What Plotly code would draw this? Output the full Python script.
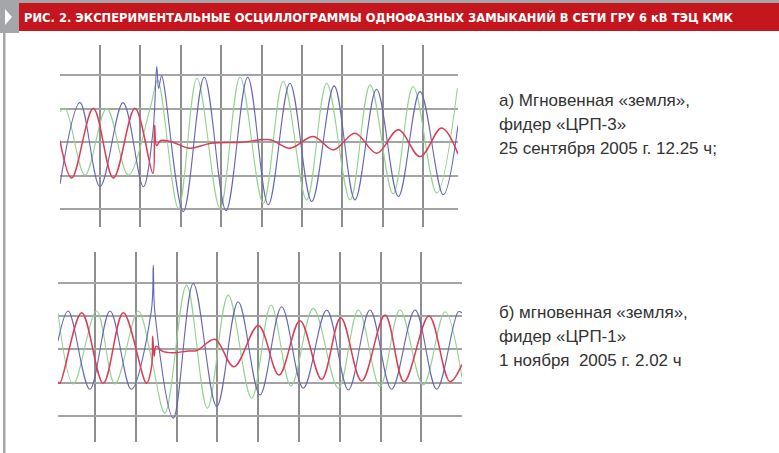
import plotly.graph_objects as go

W, H = 779, 453

# ---- Oscillogram (а): feeder «ЦРП-3», time in ms, amplitude in grid divisions
a_blue_t = [-19.8, -9.9, 0.0, 11.4, 21.4, 26.2, 28.1, 29.0, 30.5, 41.2, 51.6, 62.4, 73.1, 83.3,
            94.0, 104.8, 115.9, 126.2, 136.9, 147.7, 158.4, 169.9, 177.2]
a_blue_v = [-1.25, 1.18, -1.33, 1.18, -1.33, 0.3, 2.26, 1.6, 1.98, -2.07, 1.94, -2.04, 1.94, -1.87,
            1.76, -1.77, 1.68, -1.72, 1.58, -1.62, 1.51, -1.57, 0.5]

a_green_t = [-19.8, -17.3, -7.4, 3.3, 14.0, 24.8, 28.5, 38.8, 48.0, 59.4, 69.3, 80.8, 90.7,
             102.3, 112.2, 123.8, 133.7, 145.1, 155.0, 166.7, 176.9]
a_green_v = [0.9, 1.01, -0.98, 1.01, -0.98, 1.01, 1.85, -1.97, 1.91, -1.97, 1.94, -1.82, 1.81,
             -1.72, 1.76, -1.72, 1.71, -1.54, 1.66, -1.52, 1.61]

a_red_t = [-19.8, -14.0, -3.3, 6.6, 17.3, 26.2, 27.0, 28.0, 30.0, 36.0, 44.5, 55.0, 70.0, 84.2,
           94.0, 105.6, 115.5, 126.2, 137.0, 147.7, 158.4, 169.1, 177.2]
a_red_v = [0.05, -1.07, 1.01, -1.07, 1.01, -0.93, 0.5, -0.1, 0.05, 0.0, -0.18, -0.03, 0.0, 0.07,
           -0.18, 0.17, -0.23, 0.27, -0.33, 0.37, -0.43, 0.42, -0.35]

# ---- Oscillogram (б): feeder «ЦРП-1»
b_blue_t = [-18.1, -13.1, -2.5, 7.4, 17.8, 27.6, 28.6, 29.4, 38.4, 48.2, 59.7, 70.2, 80.9, 91.5,
            102.1, 113.6, 124.2, 134.8, 145.4, 156.9, 167.5, 178.1, 179.9]
b_blue_v = [0.25, 1.16, -1.2, 1.16, -1.2, 1.15, 2.55, 1.1, -2.07, 1.99, -1.72, 1.44, -1.37, 1.29,
            -1.17, 1.19, -1.22, 1.19, -1.2, 1.19, -1.2, 1.14, 1.1]

b_green_t = [-18.1, -10.6, 0.8, 9.8, 21.2, 27.8, 34.3, 44.9, 55.1, 65.3, 76.8, 86.3, 96.1, 107.0,
             119.3, 129.1, 139.7, 149.5, 160.9, 171.6, 179.9]
b_green_v = [1.1, -1.04, 1.16, -1.04, 1.16, -0.3, -1.92, 1.94, -1.77, 1.64, -1.47, 1.34, -1.1, 1.24,
             -1.17, 1.19, -1.12, 1.19, -1.07, 1.14, -0.85]

b_red_t = [-18.1, -17.2, -6.5, 4.1, 13.9, 25.3, 27.8, 28.3, 29.0, 30.0, 33.0, 38.0, 45.0, 50.0,
           58.8, 68.1, 80.1, 90.2, 100.5, 111.1, 120.5, 130.7, 142.2, 151.5, 163.7, 174.0, 179.9]
b_red_v = [-0.98, -1.02, 1.11, -1.02, 1.11, -1.02, -0.5, 0.4, -0.2, 0.1, -0.05, -0.1, -0.05, -0.03,
           0.31, -0.52, 0.72, -0.77, 0.87, -0.9, 0.96, -0.95, 1.04, -0.97, 1.01, -0.97, -0.45]

TITLE = "РИС. 2. ЭКСПЕРИМЕНТАЛЬНЫЕ ОСЦИЛЛОГРАММЫ ОДНОФАЗНЫХ ЗАМЫКАНИЙ В СЕТИ ГРУ 6 кВ ТЭЦ КМК"
CAPTION_A = ["а) Мгновенная «земля»,", "фидер «ЦРП-3»", "25 сентября 2005 г. 12.25 ч;"]
CAPTION_B = ["б) мгновенная «земля»,", "фидер «ЦРП-1»", "1 ноября  2005 г. 2.02 ч"]

BLUE, GREEN, RED = "#6468b0", "#92d292", "#da3d55"


def px(x):
    return x / W


def py(y):
    return 1 - y / H


fig = go.Figure()

for (t, v, c, wd, ax) in [
    (a_green_t, a_green_v, GREEN, 1.1, ""), (a_blue_t, a_blue_v, BLUE, 1.1, ""),
    (a_red_t, a_red_v, RED, 1.5, ""),
    (b_green_t, b_green_v, GREEN, 1.1, "2"), (b_blue_t, b_blue_v, BLUE, 1.1, "2"),
    (b_red_t, b_red_v, RED, 1.5, "2"),
]:
    fig.add_trace(go.Scatter(
        x=t, y=v, mode="lines", xaxis="x" + ax, yaxis="y" + ax,
        line=dict(color=c, width=wd, shape="spline", smoothing=1.0),
        hoverinfo="skip", showlegend=False,
    ))

xgrid = dict(showticklabels=False, ticks="", zeroline=False, showline=False,
             showgrid=True, gridcolor="#8e8e8e", gridwidth=1.6, tick0=0, dtick=20, fixedrange=True)
ygrid = dict(showticklabels=False, ticks="", zeroline=False, showline=False,
             showgrid=True, gridcolor="#a4a4a4", gridwidth=2.2, tick0=0, dtick=1, fixedrange=True)

fig.update_layout(
    width=W, height=H, margin=dict(l=0, r=0, t=0, b=0),
    paper_bgcolor="white", plot_bgcolor="white",
    xaxis=dict(domain=[px(60), px(458)], range=[-19.8, 177.2], anchor="y", **xgrid),
    yaxis=dict(domain=[py(227), py(45)], range=[-2.53, 2.90], anchor="x", **ygrid),
    xaxis2=dict(domain=[px(58), px(462)], range=[-18.1, 179.9], anchor="y2", **xgrid),
    yaxis2=dict(domain=[py(442), py(252)], range=[-2.79, 2.94], anchor="x2", **ygrid),
)

GRAY = "#a5a6aa"
shapes = [
    # header band
    dict(type="rect", xref="paper", yref="paper", x0=0, x1=1, y0=py(3), y1=py(0),
         fillcolor=GRAY, line_width=0, layer="below"),
    dict(type="rect", xref="paper", yref="paper", x0=0, x1=px(19), y0=py(33), y1=py(0),
         fillcolor=GRAY, line_width=0, layer="below"),
    dict(type="rect", xref="paper", yref="paper", x0=px(19), x1=1, y0=py(31), y1=py(3),
         fillcolor="#c5161d", line_width=0, layer="below"),
    # left frame rule
    dict(type="rect", xref="paper", yref="paper", x0=px(3), x1=px(5.5), y0=0, y1=py(31),
         fillcolor=GRAY, line_width=0, layer="below"),
    # arrow marker
    dict(type="path", xref="paper", yref="paper",
         path=f"M {px(5)},{py(9)} L {px(5)},{py(25)} L {px(12)},{py(17)} Z",
         fillcolor="white", line_width=0),
]
fig.update_layout(shapes=shapes)

ann = [dict(text=TITLE, x=px(22), y=py(17.5), xref="paper", yref="paper",
            xanchor="left", yanchor="middle", showarrow=False,
            font=dict(family="DejaVu Sans Condensed, Liberation Sans, sans-serif",
                      size=12.8, color="white", weight="bold"))]
for lines, y0 in [(CAPTION_A, 100), (CAPTION_B, 312)]:
    for i, s in enumerate(lines):
        ann.append(dict(text=s, x=px(497), y=py(y0 + 24.3 * i), xref="paper", yref="paper",
                        xanchor="left", yanchor="middle", showarrow=False,
                        font=dict(family="Liberation Sans, sans-serif",
                                  size=17, color="#333333")))
fig.update_layout(annotations=ann)

fig.write_html("out.html")
